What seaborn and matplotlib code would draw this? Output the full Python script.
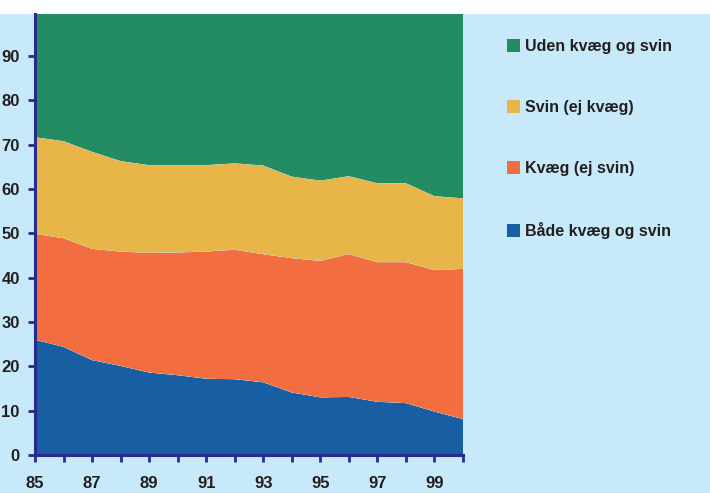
import numpy as np
import pandas as pd
import matplotlib
matplotlib.use("Agg")
import matplotlib.pyplot as plt
from matplotlib.patches import Patch, Rectangle
import seaborn as sns
import seaborn.objects as so

years = list(range(85, 101))
baade = [26.0, 24.4, 21.4, 20.1, 18.6, 18.0, 17.2, 17.1, 16.4, 14.1, 13.0, 13.1, 12.0, 11.7, 9.8, 8.1]
kvaeg = [23.9, 24.5, 25.1, 25.8, 27.0, 27.7, 28.7, 29.2, 28.9, 30.3, 30.8, 32.2, 31.5, 31.8, 31.9, 33.9]
svin = [21.8, 21.9, 21.9, 20.4, 19.8, 19.7, 19.5, 19.5, 20.0, 18.4, 18.1, 17.6, 17.8, 17.8, 16.7, 15.9]
uden = [28.3, 29.2, 31.6, 33.7, 34.6, 34.6, 34.6, 34.2, 34.7, 37.2, 38.1, 37.1, 38.7, 38.7, 41.6, 42.1]

labels = ["Både kvæg og svin", "Kvæg (ej svin)", "Svin (ej kvæg)", "Uden kvæg og svin"]
colors = ["#175EA3", "#F26E40", "#E8B548", "#238C62"]
x_ticks = [85, 87, 89, 91, 93, 95, 97, 99]
y_ticks = [0, 10, 20, 30, 40, 50, 60, 70, 80, 90]

df = pd.concat([
    pd.DataFrame({"year": years, "value": vals, "group": lab})
    for lab, vals in zip(labels, [baade, kvaeg, svin, uden])
], ignore_index=True)

sns.set_theme(style="white")
FONT = ["Liberation Sans", "DejaVu Sans"]
plt.rcParams["font.family"] = FONT
FS = 11.5
TFS = 12

navy = "#2A2A8A"
bg = "#C8E9F9"
txt = "#231F20"

fig = plt.figure(figsize=(7.10, 4.93), dpi=100, facecolor="white")
fig.patches.append(Rectangle((0, 0), 1, 1 - 14 / 493, transform=fig.transFigure,
                             facecolor=bg, edgecolor="none", zorder=-10))
ax = fig.add_axes([35 / 710, 38 / 493, (463 - 35) / 710, (455 - 14) / 493])
ax.set_facecolor(bg)

(
    so.Plot(df, x="year", y="value", color="group")
    .add(so.Area(alpha=1, edgewidth=0), so.Stack())
    .scale(color=so.Nominal(dict(zip(labels, colors)), order=labels))
    .on(ax)
    .plot()
)
fig.legends = []

ax.set_xlim(85, 100)
ax.set_ylim(0, 99.5)
ax.set_xlabel("")
ax.set_ylabel("")
for s in ["top", "right"]:
    ax.spines[s].set_visible(False)
for s in ["left", "bottom"]:
    ax.spines[s].set_visible(True)
    ax.spines[s].set_color(navy)
    ax.spines[s].set_linewidth(2.2)
    ax.spines[s].set_zorder(5)

ax.set_xticks(x_ticks)
ax.set_xticklabels([str(v) for v in x_ticks])
ax.set_xticks(years, minor=True)
ax.set_yticks(y_ticks)
ax.set_yticklabels([str(v) for v in y_ticks])
ax.tick_params(axis="both", which="both", direction="out", color=navy, width=2, length=5,
               labelsize=TFS, labelcolor=txt)
ax.tick_params(axis="both", which="both", bottom=True, left=True)
ax.tick_params(axis="x", which="major", pad=10)
ax.tick_params(axis="y", which="major", pad=6)
for t in ax.get_xticklabels() + ax.get_yticklabels():
    t.set_fontweight("bold")
ax.grid(False)

handles = [Patch(facecolor=c, edgecolor="none") for c in colors[::-1]]
fig.legend(handles, labels[::-1], loc="upper left",
           bbox_to_anchor=(507 / 710, 1 - 39 / 493), frameon=False,
           prop={"family": FONT, "weight": "bold", "size": FS},
           handlelength=0.8, handleheight=0.8, handletextpad=0.3,
           labelspacing=2.88, borderpad=0, borderaxespad=0, labelcolor=txt)

fig.savefig("out.png", dpi=100, facecolor="white")
